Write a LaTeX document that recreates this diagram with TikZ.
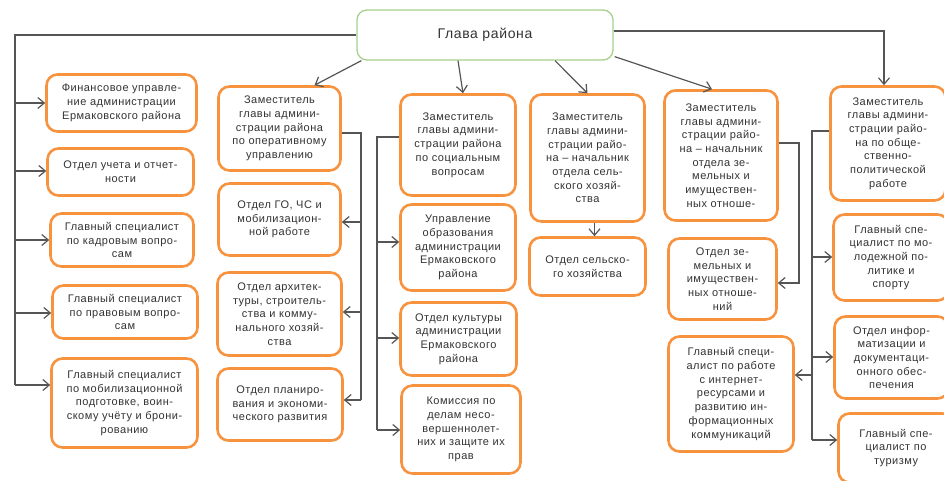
\documentclass[tikz,border=0pt]{standalone}
\usepackage{fontspec}
\setmainfont{Liberation Sans}[LetterSpace=4.5]
\usetikzlibrary{arrows.meta,calc}
\definecolor{obord}{HTML}{F7923F}
\definecolor{gbord}{HTML}{A8D08D}
\definecolor{lgray}{HTML}{555555}
\definecolor{tgray}{HTML}{333333}
\tikzset{
 obox/.style={draw=obord, line width=2.6pt, rounded corners=11pt, fill=white, align=center,
   font=\fontsize{11}{13.7}\selectfont, text=tgray, inner sep=2pt},
 gbox/.style={draw=gbord, line width=1.3pt, rounded corners=10pt, fill=white,
   font=\fontsize{14}{17}\selectfont, text=tgray},
 conn/.style={draw=lgray, line width=1.2pt},
 arr/.style={conn, -{Straight Barb[length=6.5pt,width=11pt]}},
}
\begin{document}
\begin{tikzpicture}[x=1pt,y=-1pt]
\useasboundingbox (0,0) rectangle (944,481);
\clip (0,0) rectangle (944,481);
% head
\node[gbox, minimum width=256, minimum height=50] (glava) at (485,35) {Глава района};
% left column
\node[obox, minimum width=150, minimum height=57] (fin) at (121.5,103) {Финансовое управле-\\ние администрации\\Ермаковского района};
\node[obox, minimum width=146, minimum height=47] (uchet) at (120.5,172) {Отдел учета и отчет-\\ности};
\node[obox, minimum width=143, minimum height=53] (kadr) at (122,240) {Главный специалист\\по кадровым вопро-\\сам};
\node[obox, minimum width=145, minimum height=53] (prav) at (125,312) {Главный специалист\\по правовым вопро-\\сам};
\node[obox, minimum width=146, minimum height=89] (mob) at (124.5,403) {Главный специалист\\по мобилизационной\\подготовке, воин-\\скому учёту и брони-\\рованию};
% operative column
\node[obox, minimum width=122, minimum height=84] (oper) at (279.5,128.5) {Заместитель\\главы админи-\\страции района\\по оперативному\\управлению};
\node[obox, minimum width=122, minimum height=72] (go) at (279.5,219.5) {Отдел ГО, ЧС и\\мобилизацион-\\ной работе};
\node[obox, minimum width=124, minimum height=83] (arch) at (279.5,314) {Отдел архитек-\\туры, строитель-\\ства и комму-\\нального хозяй-\\ства};
\node[obox, minimum width=125, minimum height=72] (plan) at (280,404.5) {Отдел планиро-\\вания и экономи-\\ческого развития};
% social column
\node[obox, minimum width=115, minimum height=101] (soc) at (458,145) {Заместитель\\главы админи-\\страции района\\по социальным\\вопросам};
\node[obox, minimum width=115, minimum height=86] (obr) at (458,247.5) {Управление\\образования\\администрации\\Ермаковского\\района};
\node[obox, minimum width=116, minimum height=73] (cult) at (458.5,339) {Отдел культуры\\администрации\\Ермаковского\\района};
\node[obox, minimum width=119, minimum height=88] (kom) at (461,429.5) {Комиссия по\\делам несо-\\вершеннолет-\\них и защите их\\прав};
% agriculture column
\node[obox, minimum width=114, minimum height=127] (agri) at (587.5,158) {Заместитель\\главы админи-\\страции райо-\\на – начальник\\отдела сель-\\ского хозяй-\\ства};
\node[obox, minimum width=116, minimum height=58] (oselh) at (587.5,266.5) {Отдел сельско-\\го хозяйства};
% land column
\node[obox, minimum width=113, minimum height=130] (land) at (721,155.5) {Заместитель\\главы админи-\\страции райо-\\на – начальник\\отдела зе-\\мельных и\\имуществен-\\ных отноше-};
\node[obox, minimum width=108, minimum height=81] (ozem) at (722.5,279) {Отдел зе-\\мельных и\\имуществен-\\ных отноше-\\ний};
\node[obox, minimum width=125, minimum height=115] (inet) at (731,394) {Главный специ-\\алист по работе\\с интернет-\\ресурсами и\\развитию ин-\\формационных\\коммуникаций};
% right column
\node[obox, minimum width=115, minimum height=114] (obsh) at (888,143.5) {Заместитель\\главы админи-\\страции райо-\\на по обще-\\ственно-\\политической\\работе};
\node[obox, minimum width=115, minimum height=86] (mol) at (891,257.5) {Главный спе-\\циалист по мо-\\лодежной по-\\литике и\\спорту};
\node[obox, minimum width=114, minimum height=82] (inf) at (891.5,357.5) {Отдел инфор-\\матизации и\\документаци-\\онного обес-\\печения};
\node[obox, minimum width=115, minimum height=69] (tur) at (896,448) {Главный спе-\\циалист по\\туризму};

% connectors from head
\draw[arr] ($(glava.south west)+(5,0)$) -- ($(oper.north)+(35,0)$);
\draw[arr] ($(glava.south)+(-27,0)$) -- ($(soc.north)+(5,0)$);
\draw[arr] ($(glava.south)+(70,0)$) -- (agri.north);
\draw[arr] ($(glava.south east)+(1,-4)$) -- ($(land.north)+(-9,0)$);
\draw[arr] ($(agri.south)+(7,0)$) -- ($(oselh.north)+(7,0)$);
\coordinate (R0) at (884,31);
\draw[arr] (glava.east |- R0) -- (R0) -- (obsh.north -| R0);

% left bus
\coordinate (L0) at (15,35);
\coordinate (L1) at (15,103);
\coordinate (L2) at (15,171);
\coordinate (L3) at (15,240);
\coordinate (L4) at (15,313);
\coordinate (L5) at (15,385);
\draw[conn] (glava.west) -- (L0) -- (L5);
\draw[arr] (L1) -- (L1 -| fin.west);
\draw[arr] (L2) -- (L2 -| uchet.west);
\draw[arr] (L3) -- (L3 -| kadr.west);
\draw[arr] (L4) -- (L4 -| prav.west);
\draw[arr] (L5) -- (L5 -| mob.west);

% operative bus
\coordinate (O0) at (361,133);
\coordinate (O1) at (361,222);
\coordinate (O2) at (361,312);
\coordinate (O3) at (361,400);
\draw[conn] (O0 -| oper.east) -- (O0) -- (O3);
\draw[arr] (O1) -- (O1 -| go.east);
\draw[arr] (O2) -- (O2 -| arch.east);
\draw[arr] (O3) -- (O3 -| plan.east);

% social bus
\coordinate (S0) at (377,137);
\coordinate (S1) at (377,242);
\coordinate (S2) at (377,338);
\coordinate (S3) at (377,430);
\draw[conn] (S0 -| soc.west) -- (S0) -- (S3);
\draw[arr] (S1) -- (S1 -| obr.west);
\draw[arr] (S2) -- (S2 -| cult.west);
\draw[arr] (S3) -- (S3 -| kom.west);

% land bus
\coordinate (Z0) at (799,143);
\coordinate (Z1) at (799,283);
\draw[arr] (Z0 -| land.east) -- (Z0) -- (Z1) -- (Z1 -| ozem.east);

% right bus
\coordinate (P0) at (812,131);
\coordinate (P1) at (812,257);
\coordinate (P2) at (812,357);
\coordinate (P4) at (812,375);
\coordinate (P3) at (812,440);
\draw[conn] (P0 -| obsh.west) -- (P0) -- (P3);
\draw[arr] (P1) -- (P1 -| mol.west);
\draw[arr] (P2) -- (P2 -| inf.west);
\draw[arr] (P3) -- (P3 -| tur.west);
\draw[arr] (P4) -- (P4 -| inet.east);
\end{tikzpicture}
\end{document}
